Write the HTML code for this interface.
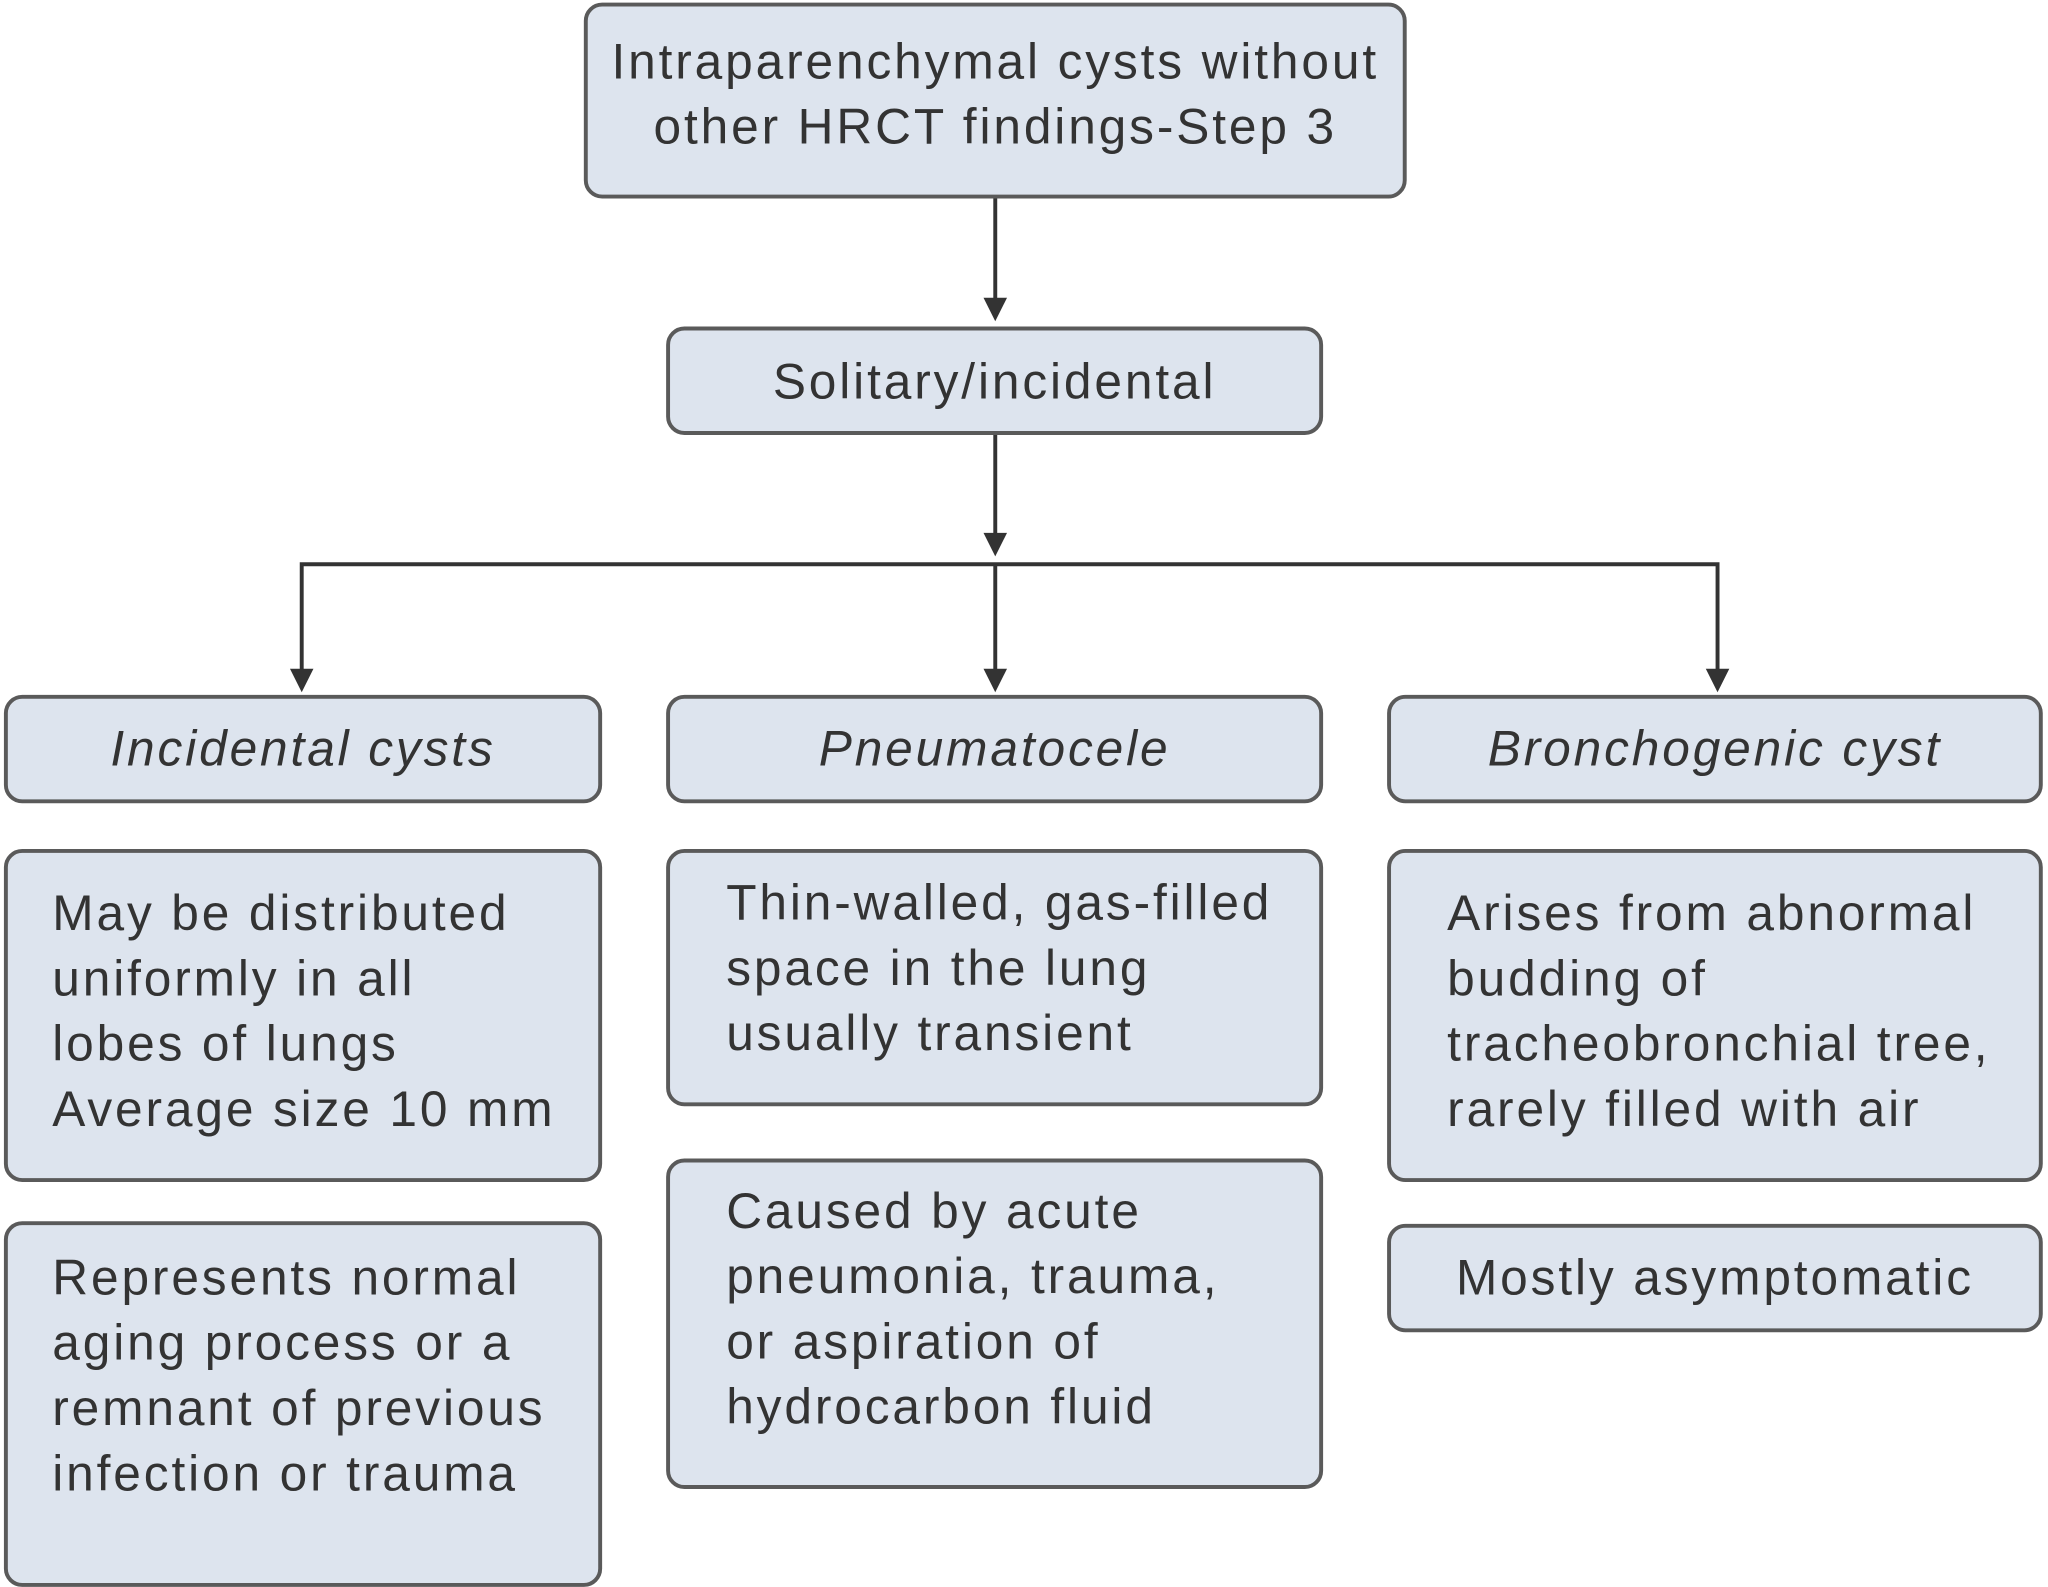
<!DOCTYPE html>
<html><head><meta charset="utf-8"><style>
html,body{margin:0;padding:0;background:#fff;width:2048px;height:1536px;overflow:hidden}
#w{position:absolute;left:0;top:0;width:1568px;height:1176px;transform:scale(1.30612);transform-origin:0 0;font-family:"Liberation Sans",Arial,sans-serif;color:#333}
.b{position:absolute;box-sizing:border-box;background:#dde4ee;border:3px solid #5a5a5a;border-radius:14px}
.t{position:absolute;font-size:38px;letter-spacing:2.2px;line-height:50px;white-space:nowrap}
.c{text-align:center}
.i{font-style:italic}
</style></head><body><div id="w">
<svg width="1568" height="1176" style="position:absolute;left:0;top:0">
<g stroke="#333" stroke-width="3" fill="none">
<line x1="762" y1="152" x2="762" y2="232"/>
<line x1="762" y1="333" x2="762" y2="412"/>
<polyline points="231,520 231,432 1315,432 1315,520"/>
<line x1="762" y1="432" x2="762" y2="518"/>
</g>
<g fill="#333">
<polygon points="753,228 771,228 762,246"/>
<polygon points="753,408 771,408 762,426"/>
<polygon points="222,512 240,512 231,530"/>
<polygon points="753,512 771,512 762,530"/>
<polygon points="1306,512 1324,512 1315,530"/>
</g>
</svg>
<div class="b" style="left:447px;top:2px;width:630px;height:150px"></div>
<div class="t c" style="left:447px;width:630px;top:23px">Intraparenchymal cysts without</div>
<div class="t c" style="left:447px;width:630px;top:73px">other HRCT findings-Step 3</div>
<div class="b" style="left:510px;top:250px;width:503px;height:83px"></div>
<div class="t c" style="left:510px;width:503px;top:268px">Solitary/incidental</div>
<div class="b" style="left:3px;top:532px;width:458px;height:83px"></div>
<div class="t c i" style="left:3px;width:458px;top:549px">Incidental cysts</div>
<div class="b" style="left:510px;top:532px;width:503px;height:83px"></div>
<div class="t c i" style="left:510px;width:503px;top:549px">Pneumatocele</div>
<div class="b" style="left:1062px;top:532px;width:502px;height:83px"></div>
<div class="t c i" style="left:1062px;width:502px;top:549px">Bronchogenic cyst</div>
<div class="b" style="left:3px;top:650px;width:458px;height:255px"></div>
<div class="t" style="left:40px;top:675px">May be distributed<br>uniformly in all<br>lobes of lungs<br>Average size 10 mm</div>
<div class="b" style="left:3px;top:935px;width:458px;height:280px"></div>
<div class="t" style="left:40px;top:954px">Represents normal<br>aging process or a<br>remnant of previous<br>infection or trauma</div>
<div class="b" style="left:510px;top:650px;width:503px;height:197px"></div>
<div class="t" style="left:556px;top:667px">Thin-walled, gas-filled<br>space in the lung<br>usually transient</div>
<div class="b" style="left:510px;top:887px;width:503px;height:253px"></div>
<div class="t" style="left:556px;top:903px">Caused by acute<br>pneumonia, trauma,<br>or aspiration of<br>hydrocarbon fluid</div>
<div class="b" style="left:1062px;top:650px;width:502px;height:255px"></div>
<div class="t" style="left:1108px;top:675px">Arises from abnormal<br>budding of<br>tracheobronchial tree,<br>rarely filled with air</div>
<div class="b" style="left:1062px;top:937px;width:502px;height:83px"></div>
<div class="t c" style="left:1062px;width:502px;top:954px">Mostly asymptomatic</div>
</div></body></html>
